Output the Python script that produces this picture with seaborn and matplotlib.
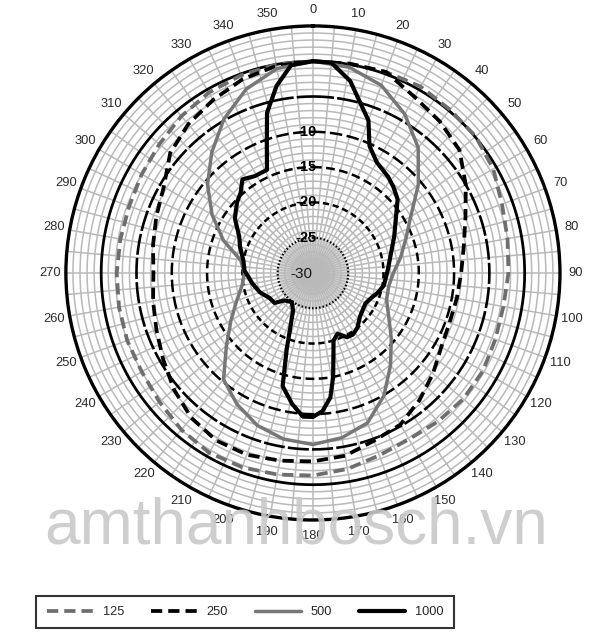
import numpy as np
import matplotlib
matplotlib.use("Agg")
import matplotlib.pyplot as plt
import seaborn as sns

# angles in degrees (clockwise from top), levels in dB
ang_10 = list(range(0, 360, 10))

db_125 = [0.0, 0.1, 0.3, 0.5, 0.2, 0.1, -0.5, -1.5, -2.0, -2.3, -2.6, -2.5,
          -2.2, -2.2, -2.5, -2.8, -2.5, -1.8, -1.3, -1.0, -0.7, -0.6, -1.0, -1.6,
          -2.0, -2.0, -2.1, -2.2, -2.3, -2.3, -2.0, -1.6, -1.0, -0.5, -0.2, 0.0]

db_250 = [0.0, 0.1, 0.3, -1.2, -2.0, -2.9, -5.0, -7.0, -8.3, -9.0, -9.3, -9.4,
          -9.0, -7.8, -6.5, -5.2, -4.7, -3.7, -3.3, -3.0, -2.6, -2.6, -3.2, -4.3,
          -5.5, -6.4, -7.0, -7.4, -7.0, -6.4, -5.6, -3.6, -2.5, -1.7, -0.8, -0.2]

db_500 = [0.0, -0.4, -1.7, -4.0, -6.8, -10.5, -14.0, -16.0, -17.4, -18.6, -19.1, -18.9,
          -17.6, -15.5, -12.9, -9.9, -7.4, -6.3, -5.7, -6.1, -7.0, -8.5, -10.3, -14.0,
          -16.6, -18.5, -19.8, -20.3, -19.6, -16.5, -13.5, -10.5, -7.7, -4.8, -2.3, -0.6]

ang_1000 = [0, 5, 11, 17, 20, 24, 30, 38, 43, 49, 66, 88, 100, 107, 113, 120, 127,
            133, 141, 147, 152, 158, 163, 166, 169, 172, 176, 180, 184, 189, 195,
            199, 202, 208, 216, 226, 232, 240, 250, 260, 272, 280, 290, 296, 305,
            313, 318, 323, 329, 336, 340, 344, 349, 354]
db_1000 = [0.0, -0.1, -2.3, -5.7, -7.0, -10.3, -11.9, -12.7, -13.3, -14.1, -17.4,
           -19.4, -19.8, -20.4, -21.0, -21.4, -21.2, -20.9, -20.0, -19.6, -19.7,
           -20.7, -20.0, -18.0, -15.0, -12.2, -10.4, -9.6, -9.6, -11.2, -13.4,
           -18.6, -21.3, -24.0, -24.9, -24.4, -23.1, -22.9, -22.0, -21.3, -20.3,
           -20.0, -19.0, -18.4, -16.5, -15.3, -14.7, -13.4, -14.0, -14.0, -10.9,
           -6.4, -3.0, -0.4]

series = ["125", "250", "500", "1000"]
colors = {"125": "#6e6e6e", "250": "#000000", "500": "#777777", "1000": "#000000"}
styles = {"125": (0, (3, 1.6)), "250": (0, (3, 1.6)), "500": "-", "1000": "-"}
widths = {"125": 2.7, "250": 2.7, "500": 2.5, "1000": 3.0}


def closed(ang, db):
    a = np.deg2rad(np.append(ang, 360))
    return a, np.append(db, db[0])


curves = {"125": closed(ang_10, db_125), "250": closed(ang_10, db_250),
          "500": closed(ang_10, db_500), "1000": closed(ang_1000, db_1000)}

sns.set_style("white")
plt.rcParams["font.family"] = ["Liberation Sans", "DejaVu Sans"]

fig = plt.figure(figsize=(6.1, 6.4), dpi=100)
ax = fig.add_axes([0.108, 0.1875, 0.81, 0.772], projection="polar")
ax.set_theta_zero_location("N")
ax.set_theta_direction(-1)
ax.set_rlim(-30, 5)
ax.grid(False)

full = np.linspace(0, 2 * np.pi, 721)
# light grey centre disc
ax.fill_between(full, -30, -25, color="#d8d8d8", zorder=0.5, lw=0)
# minor rings every 1 dB
for r in range(-29, 5):
    if r % 5:
        ax.plot(full, np.full_like(full, r), color="#b9b9b9", lw=1.1, zorder=1)
# spokes every 5 deg
for t in range(0, 360, 5):
    ax.plot([np.deg2rad(t)] * 2, [-30, 5], color="#b9b9b9", lw=1.1, zorder=1)
# major rings
ring_styles = {-25: ((0, (0.7, 0.9)), 1.6), -20: ((0, (2.5, 1.5)), 1.8),
               -15: ((0, (3.5, 1.8)), 1.8), -10: ((0, (5, 1.8)), 1.8),
               -5: ((0, (8, 1.2)), 1.9), 0: ("-", 2.0)}
for r, (ls, lw) in ring_styles.items():
    ax.plot(full, np.full_like(full, r), color="black", ls=ls, lw=lw, zorder=2)
ax.spines["polar"].set_linewidth(2.4)
ax.spines["polar"].set_color("black")

for name in series:
    th, db = curves[name]
    sns.lineplot(x=th, y=db, ax=ax, sort=False, estimator=None, color=colors[name],
                 linestyle=styles[name], lw=widths[name], label=name, zorder=3)

ax.set_xticks(np.deg2rad(range(0, 360, 10)))
ax.set_xticklabels([str(t) for t in range(0, 360, 10)], fontsize=9.3, color="#2a2a2a")
ax.tick_params(axis="x", pad=1)
ax.set_yticks([])
ax.set_xlabel("")
ax.set_ylabel("")

for v in [-10, -15, -20, -25]:
    ax.annotate(str(v), xy=(0, v), xytext=(-5, 0), textcoords="offset points",
                ha="center", va="center", fontsize=10.5, fontweight="bold",
                color="black", zorder=5)
ax.annotate("-30", xy=(0, -30), xytext=(-8, -1), textcoords="offset points",
            ha="center", va="center", fontsize=11, color="#1a1a1a", zorder=5)

handles, labels = ax.get_legend_handles_labels()
ax.get_legend().remove()
leg = fig.legend(handles, labels, loc="center", ncol=4, mode="expand",
                 bbox_to_anchor=(0.049, 0.017, 0.705, 0.053), frameon=True,
                 fancybox=False, edgecolor="black", fontsize=9.2, handlelength=3.6,
                 borderpad=0.8, columnspacing=2.0)
leg.get_frame().set_linewidth(1.5)

fig.text(0.486, 0.150, "amthanhbosch.vn", fontsize=46, color="#c9c9c9",
         ha="center", va="baseline", alpha=0.9, zorder=20)

fig.savefig("out.png", dpi=100)
